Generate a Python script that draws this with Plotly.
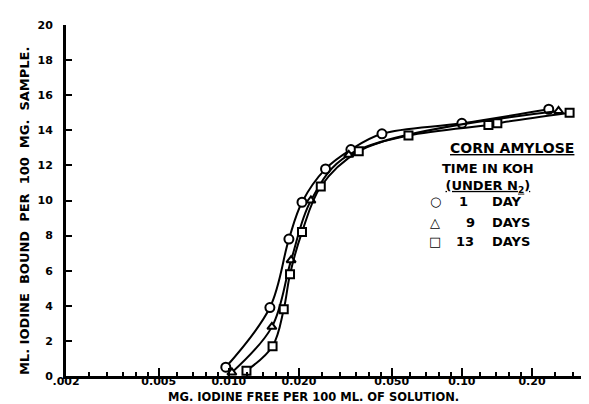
import plotly.graph_objects as go

# ---- data ----
day1_x = [0.0097, 0.0150, 0.0181, 0.0206, 0.0260, 0.0334, 0.0454, 0.100, 0.236]
day1_y = [0.5, 3.9, 7.8, 9.9, 11.8, 12.9, 13.8, 14.4, 15.2]

day9_x = [0.0103, 0.0153, 0.0185, 0.0225, 0.0327, 0.26]
day9_y = [0.2, 2.8, 6.6, 10.0, 12.6, 15.1]

day13_x = [0.0119, 0.0154, 0.0172, 0.0183, 0.0206, 0.0248, 0.0361, 0.059, 0.130, 0.142, 0.29]
day13_y = [0.3, 1.7, 3.8, 5.8, 8.2, 10.8, 12.8, 13.7, 14.3, 14.4, 15.0]

x_tickvals = [0.002, 0.005, 0.01, 0.02, 0.05, 0.1, 0.2]
x_ticktext = [".002", "0.005", "0.010", "0.020", "0.050", "0.10", "0.20"]
x_minorvals = [0.0025, 0.003, 0.0035, 0.004, 0.0045, 0.006, 0.007, 0.008, 0.009,
               0.012, 0.014, 0.016, 0.018, 0.025, 0.03, 0.035, 0.04, 0.045,
               0.06, 0.07, 0.08, 0.09, 0.12, 0.14, 0.16, 0.18, 0.25, 0.3, 0.35]
y_tickvals = [0, 2, 4, 6, 8, 10, 12, 14, 16, 18, 20]

series = [
    ("1 DAY", day1_x, day1_y, "circle", 9),
    ("9 DAYS", day9_x, day9_y, "triangle-up", 8),
    ("13 DAYS", day13_x, day13_y, "square", 8),
]

FONT = "DejaVu Sans"

fig = go.Figure()
for name, xs, ys, sym, size in series:
    fig.add_trace(go.Scatter(
        x=xs, y=ys, name=name, mode="lines+markers",
        line=dict(color="black", width=2, shape="spline", smoothing=1.0),
        marker=dict(symbol=sym, size=size, color="white",
                    line=dict(color="black", width=2)),
        showlegend=False,
    ))

fig.update_xaxes(
    type="log", range=[-2.699, -0.42],
    tickmode="array", tickvals=x_tickvals, ticktext=x_ticktext,
    ticks="inside", ticklen=8, tickwidth=2, tickcolor="black",
    minor=dict(tickmode="array", tickvals=x_minorvals, ticks="inside",
               ticklen=4, tickwidth=1.5, tickcolor="black", showgrid=False),
    showline=True, linewidth=3, linecolor="black",
    showgrid=False, zeroline=False, ticklabelstandoff=-7,
    tickfont=dict(family=FONT, size=11, color="black", weight="bold"),
)
fig.update_yaxes(
    range=[0, 20], tickmode="array", tickvals=y_tickvals,
    ticks="inside", ticklen=6, tickwidth=2, tickcolor="black",
    showline=True, linewidth=3, linecolor="black",
    showgrid=False, zeroline=False, ticklabelstandoff=8,
    tickfont=dict(family=FONT, size=11, color="black", weight="bold"),
)

ann_font = dict(family=FONT, size=14, color="black", weight="bold")
row_font = dict(family=FONT, size=13, color="black", weight="bold")
NB = "\u00a0"
annotations = [
    dict(text="MG. IODINE FREE PER 100 ML. OF SOLUTION.", x=0.467, y=-0.085,
         yanchor="bottom",
         font=dict(family=FONT, size=11.5, color="black", weight="bold")),
    dict(text=f"ML. IODINE{NB} BOUND{NB} PER{NB} 100{NB} MG.{NB} SAMPLE.",
         x=-0.079, y=0.47, textangle=-90,
         font=dict(family=FONT, size=13, color="black", weight="bold")),
    dict(text="<u>CORN AMYLOSE</u>", x=0.839, y=0.650, font=ann_font),
    dict(text="TIME IN KOH<br><u>(UNDER N<sub>2</sub>)</u>", x=0.795, y=0.565,
         align="center", font=dict(family=FONT, size=13, color="black", weight="bold")),
]
rows = [("\u25cb", "1", 0.748, "DAY", 0.497),
        ("\u25b3", "9", 0.761, "DAYS", 0.436),
        ("\u25a1", "13", 0.751, "DAYS", 0.382)]
for sym, num, nx, word, yy in rows:
    annotations.append(dict(text=sym, x=0.695, y=yy, font=row_font))
    annotations.append(dict(text=num, x=nx, y=yy, font=row_font))
    annotations.append(dict(text=word, x=0.798, y=yy, xanchor="left", font=row_font))

for a in annotations:
    a.setdefault("xref", "paper")
    a.setdefault("yref", "paper")
    a.setdefault("showarrow", False)
    a.setdefault("xanchor", "center")
    a.setdefault("yanchor", "middle")

fig.update_layout(
    width=589, height=404,
    margin=dict(l=58, r=0, t=17, b=36, autoexpand=False),
    paper_bgcolor="white", plot_bgcolor="white",
    annotations=annotations,
)

fig.write_html("out.html")
